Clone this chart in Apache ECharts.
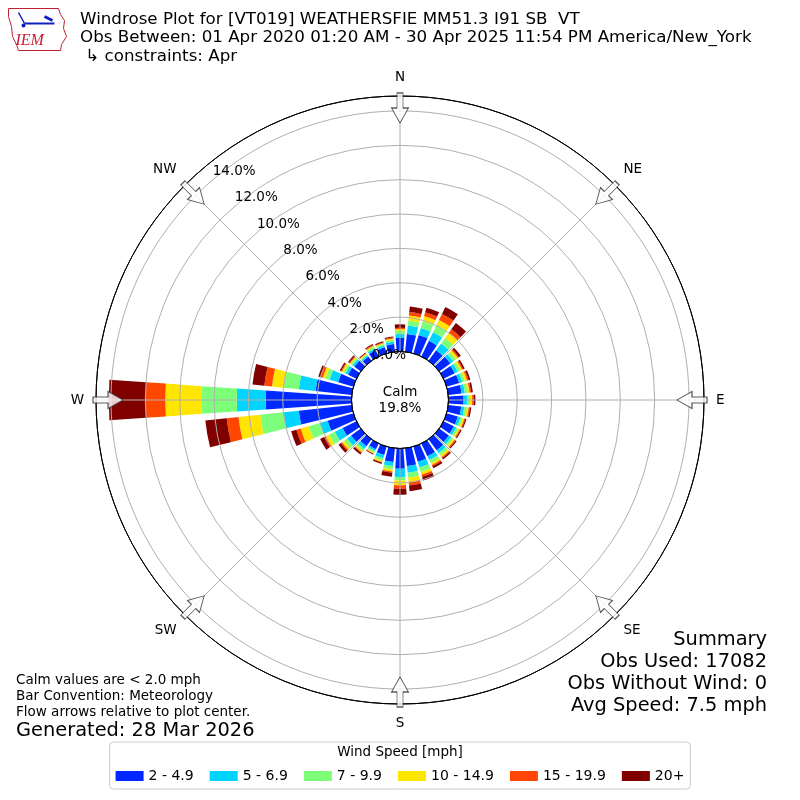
<!DOCTYPE html>
<html>
<head>
<meta charset="utf-8">
<script src="https://cdn.jsdelivr.net/npm/echarts@6/dist/echarts.min.js"></script>
<style>html,body{margin:0;padding:0;background:#fff}#c{width:800px;height:800px}</style>
</head>
<body>
<div id="c"></div>
<script>
// ---- data (percent of observations, direction wind blows from) ----
const directions = ['0','10','20','30','40','50','60','70','80','90','100','110','120','130','140','150','160','170',
  '180','190','200','210','220','230','240','250','260','270','280','290','300','310','320','330','340','350'];
const speedBins = ['2 - 4.9','5 - 6.9','7 - 9.9','10 - 14.9','15 - 19.9','20+'];
const speed2to5 = [0.79,1.04,1.12,1.01,0.75,0.80,0.72,0.76,0.78,0.88,0.76,0.68,0.66,0.70,0.80,0.82,0.92,1.04,
  1.18,0.81,0.50,0.38,0.50,0.70,0.90,1.56,3.10,5.00,2.12,0.92,0.54,0.46,0.30,0.40,0.37,0.45];
const speed5to7 = [0.23,0.50,0.42,0.56,0.50,0.22,0.20,0.19,0.19,0.20,0.18,0.16,0.16,0.17,0.20,0.25,0.35,0.39,
  0.48,0.23,0.21,0.12,0.20,0.28,0.50,0.49,0.89,1.68,0.98,0.52,0.17,0.14,0.09,0.12,0.11,0.14];
const speed7to10 = [0.19,0.29,0.41,0.45,0.39,0.18,0.16,0.16,0.16,0.17,0.15,0.13,0.13,0.14,0.17,0.20,0.27,0.29,
  0.20,0.20,0.14,0.09,0.14,0.22,0.38,0.65,1.37,2.07,0.89,0.25,0.13,0.11,0.07,0.10,0.09,0.11];
const speed10to15 = [0.10,0.29,0.31,0.33,0.37,0.14,0.12,0.13,0.12,0.13,0.11,0.10,0.10,0.11,0.12,0.12,0.16,0.26,
  0.28,0.12,0.08,0.06,0.10,0.15,0.22,0.49,1.27,2.09,0.68,0.16,0.10,0.08,0.06,0.07,0.06,0.08];
const speed15to20 = [0.07,0.20,0.23,0.40,0.25,0.08,0.07,0.09,0.09,0.09,0.07,0.06,0.05,0.06,0.07,0.08,0.13,0.20,
  0.20,0.07,0.04,0.03,0.05,0.08,0.10,0.26,0.69,1.16,0.45,0.13,0.06,0.05,0.03,0.05,0.04,0.05];
const speed20plus = [0.20,0.33,0.28,0.45,0.45,0.13,0.10,0.11,0.10,0.10,0.08,0.07,0.07,0.07,0.09,0.13,0.22,0.33,
  0.35,0.24,0.08,0.04,0.11,0.17,0.25,0.32,1.25,2.13,0.69,0.14,0.08,0.08,0.05,0.06,0.06,0.07];
const binColors = ['#0028ff','#00d4ff','#7dff7a','#ffe500','#ff4700','#800000'];
const compassLabels = ['N','NE','E','SE','S','SW','W','NW'];
const compassAngles = [0,45,90,135,180,225,270,315];
const ringTicks = [0,2,4,6,8,10,12,14];   // ring tick labels 0.0% .. 14.0%
const ringInterval = 2;
const ringLabelAngle = 320;
const radialMax = 14.87;
const arrowRadius = 14.17;
const calmPercent = '19.8%';
const summaryLines = ['Summary','Obs Used: 17082','Obs Without Wind: 0','Avg Speed: 7.5 mph'];

const speedData = [speed2to5, speed5to7, speed7to10, speed10to15, speed15to20, speed20plus];
const FONT = 'DejaVu Sans';
const INNER = 48.5, OUTER = 304;

const chart = echarts.init(document.getElementById('c'), null, {renderer: 'canvas'});

const barSeries = speedBins.map((name, i) => ({
  type: 'bar', name: name, coordinateSystem: 'polar', polarIndex: 0, stack: 'total',
  data: speedData[i], barWidth: '80%', itemStyle: {color: binColors[i]}, z: 2, silent: true
}));

const arrowPath = 'path://M5.5,0 L11.5,0 L11.5,15 L17,15 L8.5,30 L0,15 L5.5,15 Z';
const arrowSeries = {
  type: 'scatter', coordinateSystem: 'polar', polarIndex: 1, silent: true, z: 8,
  symbol: arrowPath, symbolSize: [17, 30],
  itemStyle: {color: '#ffffff', borderColor: '#333333', borderWidth: 1},
  data: compassAngles.map(a => ({value: [arrowRadius, a], symbolRotate: -a}))
};

const ringLabelSeries = {
  type: 'scatter', coordinateSystem: 'polar', polarIndex: 1, silent: true, z: 12, zlevel: 1,
  symbolSize: 0, itemStyle: {color: '#000000', opacity: 0},
  data: ringTicks.map(v => [v, ringLabelAngle]),
  label: {show: true, position: 'inside', offset: [20, -7], color: '#000000', fontFamily: FONT, fontSize: 13.5,
    textBorderWidth: 0, textBorderColor: 'transparent', opacity: 1,
    formatter: p => p.value[0].toFixed(1) + '%'}
};

const ringColors = ['#000000','#b0b0b0','#b0b0b0','#b0b0b0','#b0b0b0','#b0b0b0','#b0b0b0','#b0b0b0','#000000'];

const option = {
  animation: false,
  backgroundColor: '#ffffff',
  textStyle: {fontFamily: FONT},
  title: [
    {text: 'Windrose Plot for [VT019] WEATHERSFIE MM51.3 I91 SB  VT\nObs Between: 01 Apr 2020 01:20 AM - 30 Apr 2025 11:54 PM America/New_York\n ↳ constraints: Apr',
     left: 80, top: 10, padding: 0,
     textStyle: {fontFamily: FONT, fontSize: 16.7, fontWeight: 'normal', lineHeight: 18.7, color: '#000'}},
    {text: 'Calm\n' + calmPercent, left: 'center', top: 384, padding: 0,
     textStyle: {fontFamily: FONT, fontSize: 13.5, fontWeight: 'normal', lineHeight: 16, color: '#000'}},
    {text: 'Calm values are < 2.0 mph\nBar Convention: Meteorology\nFlow arrows relative to plot center.',
     left: 16, top: 672, padding: 0,
     textStyle: {fontFamily: FONT, fontSize: 13.5, fontWeight: 'normal', lineHeight: 16, color: '#000'}},
    {text: 'Generated: 28 Mar 2026', left: 16, top: 721, padding: 0,
     textStyle: {fontFamily: FONT, fontSize: 19.4, fontWeight: 'normal', color: '#000'}},
    {text: 'Wind Speed [mph]', left: 'center', top: 745, padding: 0,
     textStyle: {fontFamily: FONT, fontSize: 13.5, fontWeight: 'normal', color: '#000'}}
  ],
  legend: {
    data: speedBins, top: 742, left: 'center', padding: [27, 6, 6, 6],
    borderColor: '#cccccc', borderWidth: 1, borderRadius: 4,
    itemWidth: 28, itemHeight: 10, itemGap: 16, itemTextGap: 10, icon: 'rect',
    selectedMode: false,
    textStyle: {fontFamily: FONT, fontSize: 14, color: '#000'}
  },
  polar: [
    {center: ['50%', '50%'], radius: [INNER, OUTER]},
    {center: ['50%', '50%'], radius: [INNER, OUTER]}
  ],
  angleAxis: [
    {polarIndex: 0, type: 'category', data: directions, startAngle: 95, clockwise: true,
     axisLine: {show: false}, axisTick: {show: false}, axisLabel: {show: false}, splitLine: {show: false}},
    {polarIndex: 1, type: 'value', min: 0, max: 360, interval: 45, startAngle: 90, clockwise: true, z: 5,
     axisLine: {lineStyle: {color: '#000', width: 1}}, axisTick: {show: false},
     axisLabel: {margin: 12, fontSize: 13.5, color: '#000', fontFamily: FONT,
       formatter: v => { const i = compassAngles.indexOf(v); return i >= 0 ? compassLabels[i] : ''; }},
     splitLine: {lineStyle: {color: '#b0b0b0', width: 1}}}
  ],
  radiusAxis: [
    {polarIndex: 0, min: 0, max: radialMax, show: false},
    {polarIndex: 1, min: 0, max: radialMax, interval: ringInterval, z: 5,
     axisLine: {show: false}, axisTick: {show: false}, axisLabel: {show: false},
     splitLine: {lineStyle: {color: ringColors, width: 1}}}
  ],
  graphic: [
    {type: 'group', left: 6, top: 6, children: [
      {type: 'polyline', shape: {points: [[2,2],[52,2],[54,8],[58,14],[57,22],[60,30],[55,38],[54,44],[12,44],[10,38],[6,30],[5,20],[2,10],[2,2]]},
       style: {stroke: '#c02030', fill: 'none', lineWidth: 1}},
      {type: 'line', shape: {x1: 18, y1: 17, x2: 48, y2: 17}, style: {stroke: '#1020c0', lineWidth: 2}},
      {type: 'line', shape: {x1: 12, y1: 6, x2: 18, y2: 17}, style: {stroke: '#1020c0', lineWidth: 1.5}},
      {type: 'line', shape: {x1: 38, y1: 10, x2: 46, y2: 14}, style: {stroke: '#1020c0', lineWidth: 3}},
      {type: 'circle', shape: {cx: 17, cy: 19, r: 2}, style: {fill: '#1020c0'}},
      {type: 'text', style: {x: 9, y: 26, text: 'IEM', fill: '#c02030', font: 'italic 16px "Liberation Serif", serif'}}
    ]},
    {type: 'text', right: 33, top: 629,
     style: {text: summaryLines.join('\n'), textAlign: 'right', fill: '#000',
       font: '19.4px "DejaVu Sans"', lineHeight: 22}}
  ],
  series: barSeries.concat([arrowSeries, ringLabelSeries])
};
chart.setOption(option);
</script>
</body>
</html>
